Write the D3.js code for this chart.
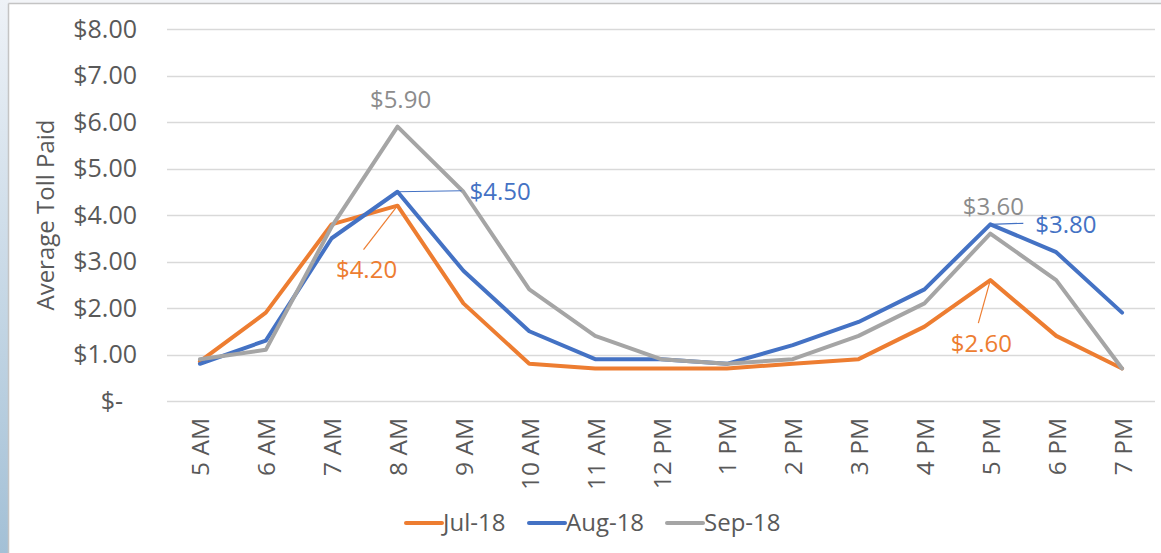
<!DOCTYPE html>
<html>
<head>
<meta charset="utf-8">
<script src="https://cdn.jsdelivr.net/npm/d3@7"></script>
<style>
  html, body { margin: 0; padding: 0; background: #ffffff; }
  svg { display: block; }
</style>
</head>
<body>
<svg id="chart" width="1161" height="553"></svg>
<script>
// Hourly average toll by month
const hours = ["5 AM", "6 AM", "7 AM", "8 AM", "9 AM", "10 AM", "11 AM", "12 PM",
               "1 PM", "2 PM", "3 PM", "4 PM", "5 PM", "6 PM", "7 PM"];
const jul18 = [0.85, 1.9, 3.8, 4.2, 2.1, 0.8, 0.7, 0.7, 0.7, 0.8, 0.9, 1.6, 2.6, 1.4, 0.7];
const aug18 = [0.8, 1.3, 3.5, 4.5, 2.8, 1.5, 0.9, 0.9, 0.8, 1.2, 1.7, 2.4, 3.8, 3.2, 1.9];
const sep18 = [0.9, 1.1, 3.75, 5.9, 4.5, 2.4, 1.4, 0.9, 0.8, 0.9, 1.4, 2.1, 3.6, 2.6, 0.7];
const seriesNames = ["Jul-18", "Aug-18", "Sep-18"];
const yTicks = [0, 1, 2, 3, 4, 5, 6, 7, 8];
// Points that carry a value label: [series index, hour]
const labelledPoints = [[2, "8 AM"], [1, "8 AM"], [0, "8 AM"], [2, "5 PM"], [1, "5 PM"], [0, "5 PM"]];

const seriesValues = [jul18, aug18, sep18];
const colors = ["#ED7D31", "#4472C4", "#A5A5A5"];
const textColor = "#595959";
const font = "'Open Sans', Lato, sans-serif";

const svg = d3.select("#chart");
const W = 1161, H = 553;

// Frame: bluish strip at the left, thin grey border round the white chart area
const defs = svg.append("defs");
const grad = defs.append("linearGradient").attr("id", "strip")
  .attr("x1", 0).attr("y1", 0).attr("x2", 0).attr("y2", 1);
grad.append("stop").attr("offset", 0).attr("stop-color", "#eef2f7");
grad.append("stop").attr("offset", 1).attr("stop-color", "#a3c0d6");
svg.append("rect").attr("x", 0).attr("y", 0).attr("width", 9).attr("height", H).attr("fill", "url(#strip)");
svg.append("rect").attr("x", 9).attr("y", 0).attr("width", W - 9).attr("height", 4).attr("fill", "#f3f5f8");
svg.append("rect").attr("x", 9).attr("y", 4).attr("width", W - 9).attr("height", H - 4).attr("fill", "#ffffff");
svg.append("line").attr("x1", 8.5).attr("x2", 8.5).attr("y1", 3.5).attr("y2", H)
  .attr("stroke", "#c4c4c4").attr("stroke-width", 1.5);
svg.append("line").attr("x1", 8.5).attr("x2", W).attr("y1", 3.5).attr("y2", 3.5)
  .attr("stroke", "#c4c4c4").attr("stroke-width", 1.5);

const plot = { left: 167, right: 1155, top: 29, bottom: 401 };

const x = d3.scalePoint().domain(hours).range([plot.left, plot.right]).padding(0.5);
const y = d3.scaleLinear().domain([0, 8]).range([plot.bottom, plot.top]);

// Horizontal gridlines
svg.append("g").selectAll("line").data(yTicks).join("line")
  .attr("x1", plot.left).attr("x2", plot.right)
  .attr("y1", d => Math.round(y(d)) + 0.5).attr("y2", d => Math.round(y(d)) + 0.5)
  .attr("stroke", "#d9d9d9").attr("stroke-width", 1.3);

// Y axis labels (accounting style, zero shown as "$-")
const yAxis = d3.axisLeft(y).tickValues(yTicks).tickSize(0).tickPadding(0)
  .tickFormat(d => d === 0 ? "$-" : "$" + d3.format(".2f")(d));
const gy = svg.append("g").attr("transform", `translate(137,0)`).call(yAxis);
gy.select(".domain").remove();
gy.selectAll("text").attr("font-family", font).attr("font-size", 25).attr("fill", textColor)
  .attr("dx", d => d === 0 ? -14 : 0);

// Y axis title
svg.append("text")
  .attr("transform", `translate(54,${(plot.top + plot.bottom) / 2}) rotate(-90)`)
  .attr("text-anchor", "middle").attr("font-family", font).attr("font-size", 24)
  .attr("fill", textColor).text("Average Toll Paid");

// X axis labels, rotated
const xAxis = d3.axisBottom(x).tickSize(0).tickPadding(0);
const gx = svg.append("g").attr("transform", `translate(0,${plot.bottom})`).call(xAxis);
gx.select(".domain").remove();
gx.selectAll("text")
  .attr("font-family", font).attr("font-size", 24.5).attr("fill", textColor)
  .attr("text-anchor", "end").attr("dy", null).attr("y", 0).attr("x", 0)
  .attr("transform", "translate(9,17) rotate(-90)");

// Series lines
const line = d3.line().x((d, i) => x(hours[i])).y(d => y(d));
svg.append("g").selectAll("path").data(seriesValues).join("path")
  .attr("d", d => line(d))
  .attr("fill", "none")
  .attr("stroke", (d, i) => colors[i])
  .attr("stroke-width", 4)
  .attr("stroke-linejoin", "round")
  .attr("stroke-linecap", "round");

// Value labels with leader lines
const placement = {
  "2|8 AM": { dx: 3, dy: -27, anchor: "middle", leader: null },
  "1|8 AM": { dx: 72, dy: 0, anchor: "start", leader: [64, -1] },
  "0|8 AM": { dx: -31, dy: 64, anchor: "middle", leader: [-34, 44] },
  "2|5 PM": { dx: 3, dy: -27, anchor: "middle", leader: null },
  "1|5 PM": { dx: 45, dy: 0, anchor: "start", leader: [33, -1] },
  "0|5 PM": { dx: -9, dy: 63, anchor: "middle", leader: [-12, 43] }
};
const money = d3.format("$.2f");
const lbl = svg.append("g");
labelledPoints.forEach(([s, h]) => {
  const i = hours.indexOf(h);
  const v = seriesValues[s][i];
  const px = x(h), py = y(v);
  const p = placement[s + "|" + h];
  if (p.leader) {
    lbl.append("line").attr("x1", px).attr("y1", py)
      .attr("x2", px + p.leader[0]).attr("y2", py + p.leader[1])
      .attr("stroke", colors[s]).attr("stroke-width", 1.2);
  }
  lbl.append("text").attr("x", px + p.dx).attr("y", py + p.dy)
    .attr("dy", "0.35em").attr("text-anchor", p.anchor)
    .attr("font-family", font).attr("font-size", 24)
    .attr("fill", s === 2 ? "#8c8c8c" : colors[s]).text(money(v));
});

// Legend
const legendItems = [{ x: 406 }, { x: 529 }, { x: 667 }];
const lg = svg.append("g");
seriesNames.forEach((name, i) => {
  const lx = legendItems[i].x;
  lg.append("line").attr("x1", lx).attr("x2", lx + 36).attr("y1", 523).attr("y2", 523)
    .attr("stroke", colors[i]).attr("stroke-width", 4).attr("stroke-linecap", "round");
  lg.append("text").attr("x", lx + 37).attr("y", 523).attr("dy", "0.35em")
    .attr("font-family", font).attr("font-size", 24).attr("fill", textColor).text(name);
});
</script>
</body>
</html>
